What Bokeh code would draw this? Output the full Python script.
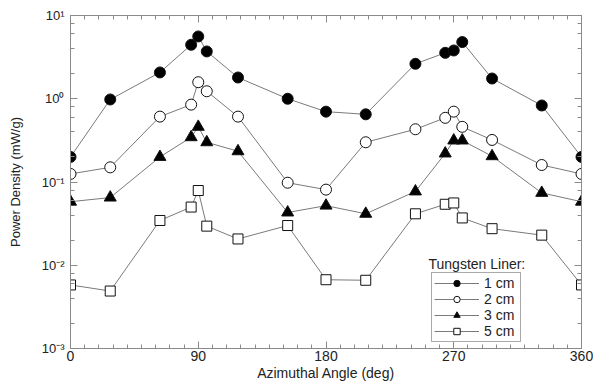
from bokeh.plotting import figure
from bokeh.models import (SingleIntervalTicker, LogTicker, LinearAxis, LogAxis,
                          Legend, LegendItem, Label, CustomJSTickFormatter)
from bokeh.embed import file_html
from bokeh.resources import INLINE

# ---- data ----
angles = [0, 28, 63, 85, 90, 96, 118, 153, 180, 208, 243, 264, 270, 276, 297, 332, 360]
liner_1cm = [0.20, 0.98, 2.07, 4.45, 5.6, 3.7, 1.8, 1.0, 0.70, 0.65, 2.63, 3.56, 3.8, 4.8, 1.75, 0.83, 0.20]
liner_2cm = [0.125, 0.15, 0.61, 0.85, 1.58, 1.23, 0.61, 0.098, 0.081, 0.30, 0.43, 0.59, 0.70, 0.46, 0.32, 0.16, 0.125]
liner_3cm = [0.058, 0.065, 0.20, 0.345, 0.46, 0.30, 0.234, 0.043, 0.052, 0.0415, 0.077, 0.22, 0.315, 0.315, 0.204, 0.074, 0.058]
liner_5cm = [0.0058, 0.0049, 0.0345, 0.050, 0.079, 0.0295, 0.0207, 0.030, 0.0067, 0.0066, 0.0415, 0.054, 0.056, 0.037, 0.0275, 0.023, 0.0058]
labels = ["1 cm", "2 cm", "3 cm", "5 cm"]
x_ticks_interval = 90

FONT = "Liberation Sans"
AX = "#8a8a8a"

p = figure(width=593, height=386, x_range=(0, 360), y_range=(1e-3, 1e1),
           y_axis_type="log", output_backend="svg", toolbar_location=None,
           min_border_left=70, min_border_right=12, min_border_top=15, min_border_bottom=38)
p.grid.visible = False
p.outline_line_color = AX
p.background_fill_color = "white"
p.border_fill_color = "white"

xt = SingleIntervalTicker(interval=x_ticks_interval, num_minor_ticks=9)
yt = LogTicker()
fmt = CustomJSTickFormatter(code="""
const e = Math.round(Math.log10(tick));
const sup = {'-':'\u207b','0':'\u2070','1':'\u00b9','2':'\u00b2','3':'\u00b3'};
return '10' + String(e).split('').map(c => sup[c]).join('');
""")

def style(ax, show_labels=True):
    ax.axis_line_color = AX
    ax.major_tick_line_color = AX
    ax.minor_tick_line_color = AX
    ax.major_tick_in = 7
    ax.major_tick_out = 0
    ax.minor_tick_in = 4
    ax.minor_tick_out = 0
    ax.major_label_text_font = FONT
    ax.major_label_text_color = "#222222"
    ax.axis_label_text_font = FONT
    ax.axis_label_text_font_style = "normal"
    ax.axis_label_text_color = "#222222"
    if not show_labels:
        ax.major_label_text_font_size = "1px"
        ax.major_label_text_alpha = 0
        ax.major_label_standoff = 0

xa = p.xaxis[0]
xa.ticker = xt
xa.axis_label = "Azimuthal Angle (deg)"
style(xa)
xa.major_label_text_font_size = "14px"
xa.axis_label_text_font_size = "14px"
xa.major_label_standoff = 2
xa.axis_label_standoff = 1

ya = p.yaxis[0]
ya.ticker = yt
ya.formatter = fmt
ya.axis_label = "Power Density (mW/g)"
style(ya)
ya.major_label_text_font_size = "13px"
ya.axis_label_text_font_size = "13px"
ya.major_label_standoff = 6
ya.axis_label_standoff = 16

top = LinearAxis(ticker=xt)
style(top, False)
p.add_layout(top, "above")
right = LogAxis(ticker=yt)
style(right, False)
p.add_layout(right, "right")

LINE = "#7a7a7a"
specs = [
    (liner_1cm, "circle", "black", 11),
    (liner_2cm, "circle", "white", 11),
    (liner_3cm, "triangle", "black", 12),
    (liner_5cm, "square", "white", 10),
]
items = []
for (vals, marker, fill, size), lab in zip(specs, labels):
    ln = p.line(angles, vals, line_color=LINE, line_width=1)
    sc = p.scatter(angles, vals, marker=marker, size=size, fill_color=fill,
                   line_color="#111111", line_width=1)
    items.append(LegendItem(label=lab, renderers=[ln, sc]))

legend = Legend(items=items, location=(361, 6), orientation="vertical")
legend.border_line_color = "#555555"
legend.border_line_width = 1
legend.background_fill_alpha = 1
legend.label_text_font = FONT
legend.label_text_font_size = "14px"
legend.label_text_color = "#222222"
legend.glyph_width = 45
legend.glyph_height = 16
legend.label_height = 16
legend.label_width = 34
legend.spacing = 0
legend.padding = 2
legend.margin = 0
legend.label_standoff = 5
p.add_layout(legend)

title = Label(x=358, y=85, x_units="screen", y_units="screen", text="Tungsten Liner:",
              text_font=FONT, text_font_size="14px", text_color="#222222",
              text_baseline="middle")
p.add_layout(title)

open("out.html", "w").write(file_html(p, INLINE))
